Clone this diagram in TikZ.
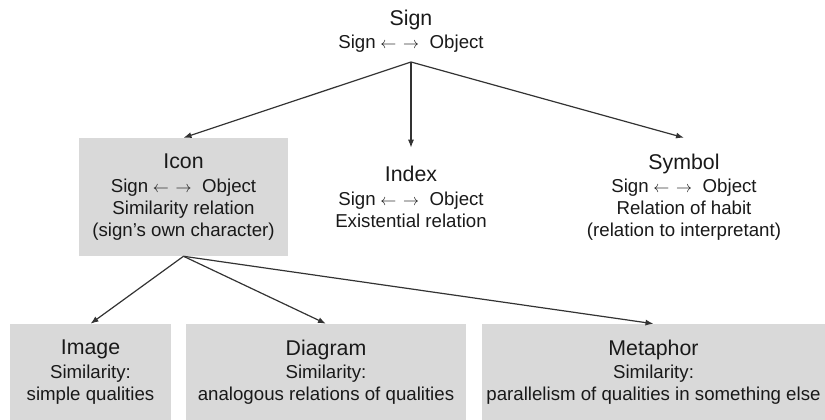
\documentclass[tikz,border=0pt]{standalone}
\usepackage{fontspec}
\setmainfont{Liberation Sans}
\usetikzlibrary{arrows.meta}
\definecolor{boxgray}{HTML}{D9D9D9}
\definecolor{linegray}{HTML}{333333}
\newcommand{\ttl}[1]{{\fontsize{16}{19}\selectfont #1}\\[1pt]}
\newcommand{\relarr}{Sign\hspace{3.5pt}{\fontsize{12.5}{12.5}\selectfont$\leftarrow$\hspace{5pt}$\rightarrow$}\hspace{8pt}Object}

\begin{document}
\begin{tikzpicture}[x=0.75pt,y=-0.75pt]
    \tikzstyle{every node}+=[inner sep=0pt, align=center, text=black!90, font=\fontsize{14}{16.5}\selectfont]
    \tikzstyle{kind}=[minimum width=156.75pt, minimum height=88.5pt]
    \tikzstyle{greybox}=[fill=boxgray]
    \tikzstyle{sub}=[fill=boxgray, minimum height=72pt]
    \tikzstyle{arr}=[draw=linegray, line width=0.9pt, -{Latex[length=6pt,width=4.5pt]}]
    \useasboundingbox (0,0) rectangle (825,420);
    \node (sign) at (411,31) {\ttl{Sign}\relarr};
    \coordinate (fork) at (411,62);
    \node [kind, greybox] (icon) at (183.5,197) {\ttl{Icon}\relarr\\Similarity relation\\(sign's own character)};
    \node [minimum height=73.5pt] (index) at (411,197) {\ttl{Index}\relarr\\Existential relation};
    \node [kind] (symbol) at (684,197) {\ttl{Symbol}\relarr\\Relation of habit\\(relation to interpretant)};
    \node [sub, minimum width=120.75pt] (image) at (90.5,372) {\ttl{Image}Similarity:\\simple qualities};
    \node [sub, minimum width=210pt] (diagram) at (326,372) {\ttl{Diagram}Similarity:\\analogous relations of qualities};
    \node [sub, minimum width=257.25pt] (metaphor) at (653.5,372) {\ttl{Metaphor}Similarity:\\parallelism of qualities in something else};
    \draw [arr] (fork) -- (icon.north);
    \draw [arr] (fork) -- (index.north);
    \draw [arr] (fork) -- (symbol.north);
    \draw [arr] (icon.south) -- (image.north);
    \draw [arr] (icon.south) -- (diagram.north);
    \draw [arr] (icon.south) -- (metaphor.north);
\end{tikzpicture}
\end{document}
